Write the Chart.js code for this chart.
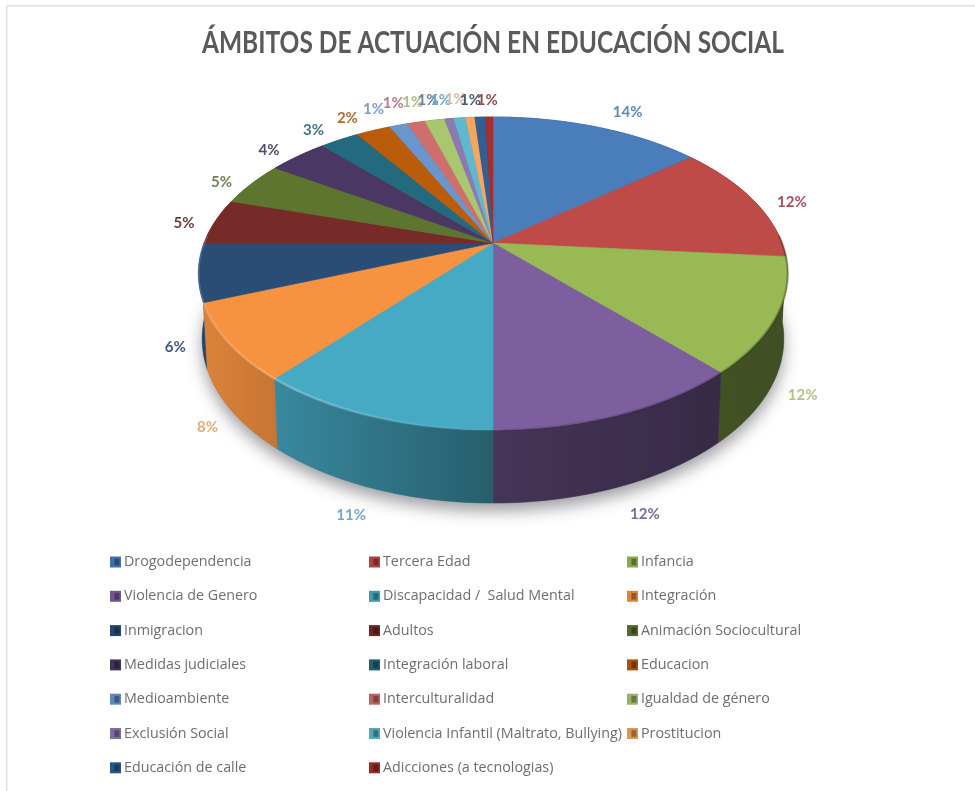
<!DOCTYPE html>
<html lang="es">
<head>
<meta charset="utf-8">
<title>Ámbitos de actuación en Educación Social</title>
<style>
  html, body { margin: 0; padding: 0; background: #fff; }
  canvas { display: block; }
</style>
<script src="https://cdn.jsdelivr.net/npm/chart.js@4"></script>
</head>
<body>
<canvas id="chart" width="975" height="791"></canvas>
<script>
const TITLE = 'ÁMBITOS DE ACTUACIÓN EN EDUCACIÓN SOCIAL';

const categories = [
  'Drogodependencia', 'Tercera Edad', 'Infancia',
  'Violencia de Genero', 'Discapacidad /  Salud Mental', 'Integración',
  'Inmigracion', 'Adultos', 'Animación Sociocultural',
  'Medidas judiciales', 'Integración laboral', 'Educacion',
  'Medioambiente', 'Interculturalidad', 'Igualdad de género',
  'Exclusión Social', 'Violencia Infantil (Maltrato, Bullying)', 'Prostitucion',
  'Educación de calle', 'Adicciones (a tecnologias)'
];

const shares = [
  14.0, 12.4, 11.8, 11.8, 11.1, 7.9, 6.0, 4.7, 4.6, 3.9,
  2.6, 2.3, 1.2, 1.2, 1.3, 0.6, 0.8, 0.6, 0.7, 0.5
];

const sliceColors = [
  '#4a7ebb', '#be4b48', '#98b954', '#7d5fa0', '#46aac4', '#f69240',
  '#2a4d76', '#772b29', '#5e7530', '#4a3763', '#246a7e', '#bb5c0a',
  '#6a96cf', '#cf6f6d', '#a9c76f', '#8e78b0', '#5fb8d0', '#f7a660',
  '#2f5f94', '#a52f2c'
];

const labelColors = [
  '#5d8ab8', '#a5505c', '#b2c384', '#7b6b99', '#74a9c2', '#e9ab76',
  '#41597a', '#6e3c3e', '#6f8455', '#57496c', '#437483', '#ab6d35',
  '#7f9ccb', '#b87884', '#a9c08c', '#6f7f9c', '#6fa8cf', '#dcb9a0',
  '#4a5a74', '#8f4a52'
];

// Horizontal and vertical distance of each percentage from its slice's outer rim.
const labelOffsets = [
  [30, -15], [38, 1], [26, 79], [24, 100], [-21, 99], [-21, 85], [-23, 75],
  [-31, 2], [-30, -2], [-29, -6], [-26, -10], [-26, -12], [-25, -16], [-23, -19],
  [-22, -18], [-21, -19], [-19, -18], [-15, -18], [-9.5, -17], [-2, -17]
];

// Perspective view of the pie disc.
const view = { hubX: 493, hubY: 243, spreadX: 289, spreadY: 150.6, tilt: 0.195 };
// Lower edge of the extruded wall, relative to the upper rim.
const wall = { shrink: 0.987, frontRim: 430, frontBase: 503, stretch: 1.05 };
// Wall brightness from left to right.
const wallShade = [[198, 0.9], [280, 0.8], [493, 0.55], [720, 0.44], [787, 0.42]];
// Horizontal squeeze that gives the heading its condensed look.
const titleSqueeze = 0.79;

function topPoint(angle, r = 1) {
  const u = Math.cos(angle) * r;
  const v = Math.sin(angle) * r;
  const d = 1 - view.tilt * v;
  return [view.hubX + view.spreadX * u / d, view.hubY + view.spreadY * v / d];
}

function basePoint(angle) {
  const [x, y] = topPoint(angle);
  return [
    view.hubX + (x - view.hubX) * wall.shrink,
    wall.frontBase + wall.stretch * (y - wall.frontRim)
  ];
}

function arcPoints(project, a, b) {
  const n = Math.max(2, Math.ceil(Math.abs(b - a) / (Math.PI / 180)));
  const pts = [];
  for (let i = 0; i <= n; i++) pts.push(project(a + (b - a) * i / n));
  return pts;
}

function trace(ctx, pts) {
  pts.forEach((p, i) => (i ? ctx.lineTo(p[0], p[1]) : ctx.moveTo(p[0], p[1])));
}

function shaded(hex, f) {
  const n = parseInt(hex.slice(1), 16);
  const c = [n >> 16, (n >> 8) & 255, n & 255].map(v => Math.round(v * f));
  return `rgb(${c[0]},${c[1]},${c[2]})`;
}

const pie3d = {
  id: 'pie3d',
  beforeDatasetDraw(chart, args) {
    const ctx = chart.ctx;
    const arcs = args.meta.data;
    const left = wallShade[0][0];
    const right = wallShade[wallShade.length - 1][0];

    ctx.save();

    // Soft shadow under the disc.
    ctx.save();
    ctx.shadowColor = 'rgba(40,40,50,0.45)';
    ctx.shadowBlur = 16;
    ctx.shadowOffsetY = 8;
    ctx.fillStyle = '#888';
    ctx.beginPath();
    trace(ctx, arcPoints(basePoint, 0, Math.PI * 2));
    ctx.closePath();
    ctx.fill();
    ctx.restore();

    // Outer walls, farthest first.
    const order = arcs.map((a, i) => i).sort((i, j) =>
      Math.sin((arcs[i].startAngle + arcs[i].endAngle) / 2) -
      Math.sin((arcs[j].startAngle + arcs[j].endAngle) / 2));
    order.forEach(i => {
      const el = arcs[i];
      const grad = ctx.createLinearGradient(left, 0, right, 0);
      wallShade.forEach(([x, f]) =>
        grad.addColorStop((x - left) / (right - left), shaded(sliceColors[i], f)));
      ctx.beginPath();
      trace(ctx, arcPoints(topPoint, el.startAngle, el.endAngle));
      const base = arcPoints(basePoint, el.endAngle, el.startAngle);
      base.forEach(p => ctx.lineTo(p[0], p[1]));
      ctx.closePath();
      ctx.fillStyle = grad;
      ctx.strokeStyle = grad;
      ctx.lineWidth = 0.5;
      ctx.fill();
      ctx.stroke();
    });

    // Top faces.
    arcs.forEach((el, i) => {
      ctx.beginPath();
      ctx.moveTo(view.hubX, view.hubY);
      arcPoints(topPoint, el.startAngle, el.endAngle).forEach(p => ctx.lineTo(p[0], p[1]));
      ctx.closePath();
      ctx.fillStyle = sliceColors[i];
      ctx.strokeStyle = sliceColors[i];
      ctx.lineWidth = 0.5;
      ctx.fill();
      ctx.stroke();
    });

    // Bevel along the front rim: bright on the left, dark on the right.
    const bevel = ctx.createLinearGradient(left, 0, right, 0);
    bevel.addColorStop(0, 'rgba(255,255,255,0.14)');
    bevel.addColorStop(0.16, 'rgba(255,255,255,0.26)');
    bevel.addColorStop(0.5, 'rgba(255,255,255,0)');
    bevel.addColorStop(0.52, 'rgba(30,20,50,0.12)');
    bevel.addColorStop(1, 'rgba(30,30,10,0.28)');
    ctx.beginPath();
    trace(ctx, arcPoints(topPoint, -0.05, Math.PI + 0.05));
    ctx.strokeStyle = bevel;
    ctx.lineWidth = 2.5;
    ctx.stroke();

    ctx.restore();
    return false;
  },
  afterDatasetsDraw(chart) {
    const ctx = chart.ctx;
    const arcs = chart.getDatasetMeta(0).data;
    const values = chart.data.datasets[0].data;
    const total = values.reduce((s, v) => s + v, 0);
    ctx.save();
    ctx.font = 'bold 15px Lato';
    ctx.textAlign = 'center';
    ctx.textBaseline = 'middle';
    arcs.forEach((el, i) => {
      const [x, y] = topPoint((el.startAngle + el.endAngle) / 2);
      ctx.fillStyle = labelColors[i];
      ctx.fillText(Math.round(values[i] / total * 100) + '%',
        x + labelOffsets[i][0], y + labelOffsets[i][1]);
    });
    ctx.restore();
  }
};

// Three-column key under the pie.
const keyLayout = { columns: [110, 369, 627], firstRow: 562, rowGap: 34.3, box: 11, gap: 3 };

const key = {
  id: 'key',
  afterDraw(chart) {
    const ctx = chart.ctx;
    ctx.save();
    ctx.font = '14.3px "Open Sans"';
    ctx.textAlign = 'left';
    ctx.textBaseline = 'middle';
    chart.data.labels.forEach((label, i) => {
      const x = keyLayout.columns[i % 3];
      const y = keyLayout.firstRow + Math.floor(i / 3) * keyLayout.rowGap;
      const s = keyLayout.box;
      ctx.fillStyle = shaded(sliceColors[i], 0.9);
      ctx.fillRect(x, y - s / 2, s, s);
      ctx.fillStyle = shaded(sliceColors[i], 0.6);
      ctx.fillRect(x + s * 0.4, y - s * 0.3, s * 0.45, s * 0.6);
      ctx.fillStyle = '#6e6e6e';
      ctx.fillText(label, x + s + keyLayout.gap, y);
    });
    ctx.restore();
  }
};

// Thin frame along the top and left edges of the picture, and the condensed heading.
const frame = {
  id: 'frame',
  afterLayout(chart) {
    const block = chart.titleBlock;
    if (block.squeezed) return;
    block.squeezed = true;
    const drawTitle = block.draw.bind(block);
    block.draw = () => {
      const ctx = chart.ctx;
      const mid = (block.left + block.right) / 2;
      ctx.save();
      ctx.translate(mid, 0);
      ctx.scale(titleSqueeze, 1);
      ctx.translate(-mid, 0);
      drawTitle();
      ctx.restore();
    };
  },
  beforeDraw(chart) {
    const ctx = chart.ctx;
    ctx.save();
    ctx.fillStyle = '#fff';
    ctx.fillRect(0, 0, chart.width, chart.height);
    ctx.fillStyle = '#e2e2e2';
    ctx.fillRect(6, 5, chart.width - 6, 1.5);
    ctx.fillRect(6, 5, 1.5, chart.height - 5);
    ctx.restore();
  }
};

new Chart(document.getElementById('chart'), {
  type: 'pie',
  data: {
    labels: categories,
    datasets: [{ data: shares, backgroundColor: sliceColors, borderWidth: 0 }]
  },
  options: {
    responsive: false,
    animation: false,
    devicePixelRatio: 1,
    layout: { padding: { left: 11, top: 24, bottom: 260, right: 0 } },
    plugins: {
      legend: { display: false },
      tooltip: { enabled: false },
      title: {
        display: true,
        text: TITLE,
        color: '#5a5a5a',
        font: { family: 'Lato', size: 31, weight: 'bold' },
        padding: { top: 0, bottom: 30 }
      }
    }
  },
  plugins: [frame, pie3d, key]
});
</script>
</body>
</html>
